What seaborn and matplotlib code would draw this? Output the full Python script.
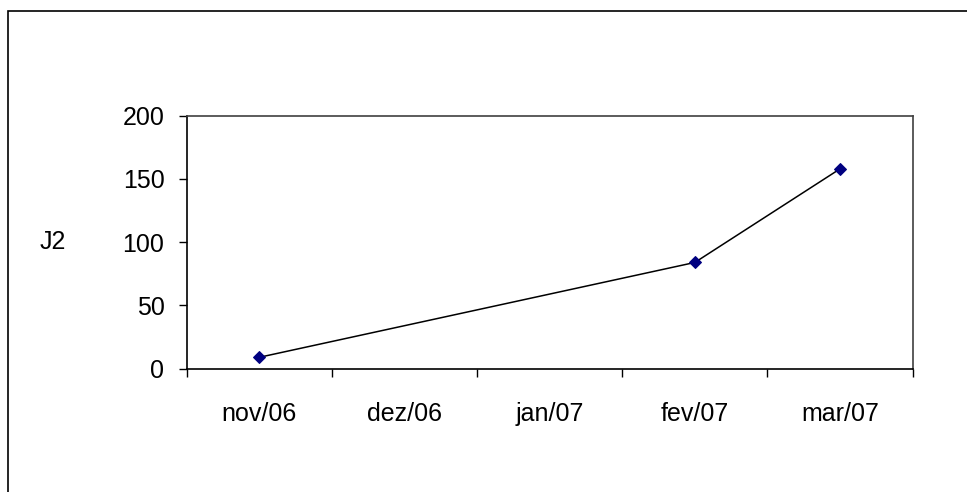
import numpy as np
import pandas as pd
import seaborn as sns
import matplotlib.pyplot as plt
from matplotlib.patches import Rectangle

# dados
meses = ['nov/06', 'dez/06', 'jan/07', 'fev/07', 'mar/07']
j2 = [9, np.nan, np.nan, 84, 158]
y_ticks = [0, 50, 100, 150, 200]

sns.set_style("white")
plt.rcParams['font.family'] = ['Liberation Sans', 'DejaVu Sans']
plt.rcParams['text.color'] = 'black'
plt.rcParams['xtick.color'] = 'black'
plt.rcParams['ytick.color'] = 'black'

df = pd.DataFrame({'mes': meses, 'J2': j2})
df['pos'] = np.arange(len(meses))
df = df.dropna()

fig = plt.figure(figsize=(9.67, 4.92), dpi=100)
ax = fig.add_axes([0.193, 0.2506, 0.7508, 0.5142])

sns.lineplot(data=df, x='pos', y='J2', ax=ax, color='black', linewidth=1.1,
             marker='D', markersize=6.5, markerfacecolor='#000080',
             markeredgecolor='#000080')

ax.set_xlim(-0.5, len(meses) - 0.5)
ax.set_ylim(0, 200)
ax.set_yticks(y_ticks)
ax.set_xticks(range(len(meses)))
ax.set_xticklabels(meses)
ax.set_xticks(np.arange(-0.5, len(meses)), minor=True)
ax.tick_params(axis='x', which='major', length=0, pad=24, labelsize=18,
               labelcolor='black')
ax.tick_params(axis='x', which='minor', length=6, width=1, color='black',
               direction='out', bottom=True)
ax.tick_params(axis='y', length=6, width=1, color='black', direction='out',
               left=True, pad=10, labelsize=18, labelcolor='black')
ax.set_xlabel('')
ax.set_ylabel('')

for s in ['left', 'bottom']:
    ax.spines[s].set_color('black')
    ax.spines[s].set_linewidth(1.2)
for s in ['top', 'right']:
    ax.spines[s].set_color('#404040')
    ax.spines[s].set_linewidth(1.2)

fig.text(53 / 967, 1 - 242 / 492, 'J2', fontsize=18, ha='center', va='center',
         color='black')

# moldura externa
fig.patches.append(Rectangle((8 / 967, -0.2), 2, 1 - 11 / 492 + 0.2,
                             transform=fig.transFigure, fill=False,
                             edgecolor='black', linewidth=1.2))

fig.savefig('out.png', dpi=100)
